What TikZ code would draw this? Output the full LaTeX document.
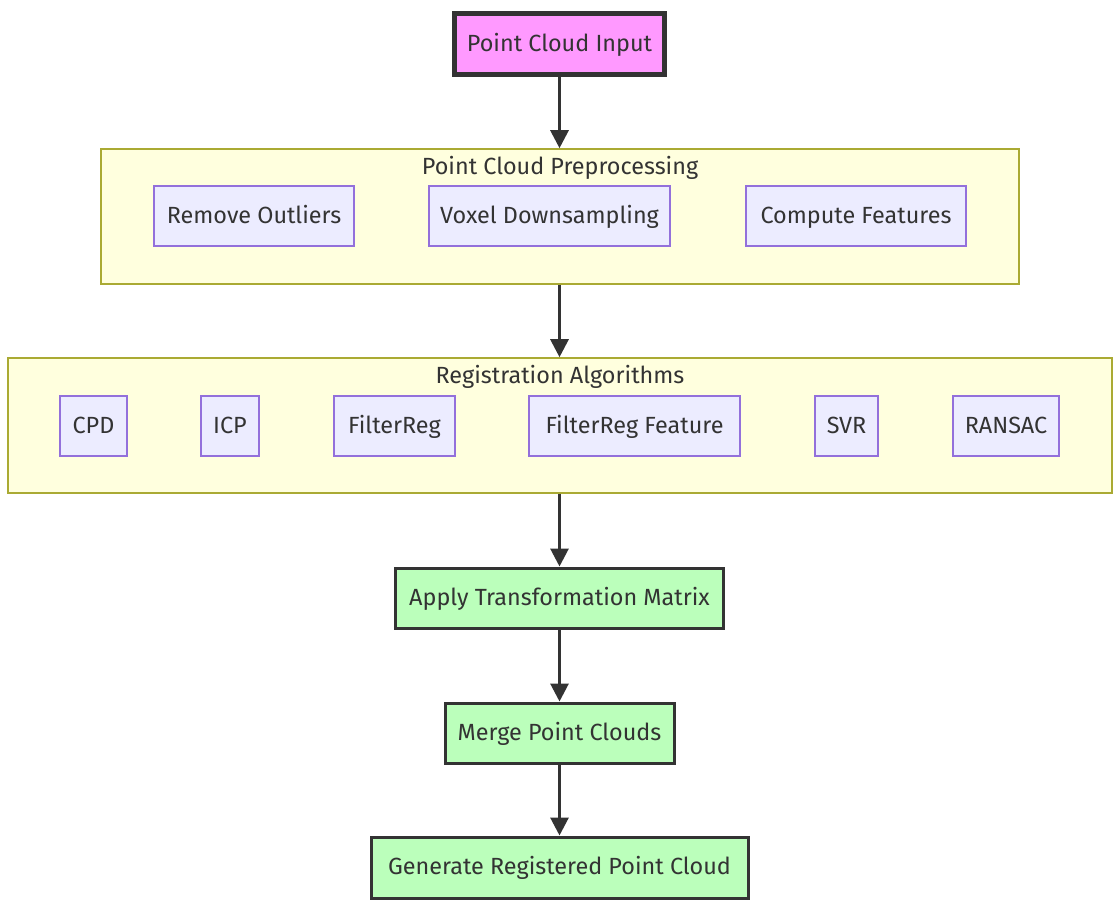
\documentclass[tikz,border=0pt]{standalone}
\usepackage{fontspec}
\setmainfont{Fira Sans}
\usepackage{tikz}
\usetikzlibrary{arrows.meta, positioning, fit}
\definecolor{txt}{HTML}{333333}
\definecolor{nodefill}{HTML}{ECECFF}
\definecolor{nodeline}{HTML}{9370DB}
\definecolor{grpfill}{HTML}{FFFFDE}
\definecolor{grpline}{HTML}{AAAA33}
\definecolor{inputfill}{HTML}{FF99FF}
\definecolor{outfill}{HTML}{BBFFBB}
\tikzset{
  paso/.style={rectangle, draw=nodeline, fill=nodefill, line width=0.7pt,
    minimum height=30pt, align=center, text=txt, text height=1.6ex, text depth=.25ex,
    font=\fontsize{11.7}{13}\selectfont},
  entrada/.style={rectangle, draw=txt, fill=inputfill, line width=2.5pt,
    minimum height=30.5pt, align=center, text=txt, text height=1.6ex, text depth=.25ex,
    font=\fontsize{11.7}{13}\selectfont},
  salida/.style={rectangle, draw=txt, fill=outfill, line width=1.5pt,
    minimum height=30pt, align=center, text=txt, text height=1.6ex, text depth=.25ex,
    font=\fontsize{11.7}{13}\selectfont},
  grupo/.style={rectangle, draw=grpline, fill=grpfill, line width=0.8pt,
    minimum height=67.5pt},
  titulo/.style={text=txt, font=\fontsize{11.7}{13}\selectfont, inner sep=0pt,
    text height=1.6ex, text depth=.25ex},
  flecha/.style={-{Triangle[length=9pt, width=9pt]}, line width=1.5pt, color=txt}
}
\begin{document}
\begin{tikzpicture}[x=0.5pt, y=-0.5pt]
  \useasboundingbox[fill=white] (0,0) rectangle (1119,906);
  % input
  \node[entrada, minimum width=105pt] (input) at (559.5,44) {Point Cloud Input};
  % preprocessing group
  \node[grupo, minimum width=459pt] (prep) at (560,216.5) {};
  \node[titulo] (preptit) at (560,167) {Point Cloud Preprocessing};
  \node[paso, minimum width=100pt] (outl) at (254,216) {Remove Outliers};
  \node[paso, minimum width=120.5pt] (voxel) at (549.5,216) {Voxel Downsampling};
  \node[paso, minimum width=110pt] (feat) at (856,216) {Compute Features};
  % registration group
  \node[grupo, minimum width=552pt] (reg) at (560,425.5) {};
  \node[titulo] (regtit) at (560,376) {Registration Algorithms};
  \node[paso, minimum width=33.5pt] (cpd) at (93.5,426) {CPD};
  \node[paso, minimum width=29pt] (icp) at (230,426) {ICP};
  \node[paso, minimum width=60.5pt] (freg) at (394.5,426) {FilterReg};
  \node[paso, minimum width=105.5pt] (fregf) at (634.5,426) {FilterReg Feature};
  \node[paso, minimum width=31.5pt] (svr) at (846.5,426) {SVR};
  \node[paso, minimum width=53pt] (ransac) at (1006,426) {RANSAC};
  % output steps
  \node[salida, minimum width=164pt] (apply) at (559.5,598) {Apply Transformation Matrix};
  \node[salida, minimum width=114.5pt] (merge) at (559.5,733) {Merge Point Clouds};
  \node[salida, minimum width=188.5pt, minimum height=30.5pt] (gen) at (559.5,867.5) {Generate Registered Point Cloud};
  \draw[flecha] (input) -- (input |- prep.north);
  \draw[flecha] (prep.south -| input) -- (input |- reg.north);
  \draw[flecha] (reg.south -| input) -- (apply);
  \draw[flecha] (apply) -- (merge);
  \draw[flecha] (merge) -- (gen);
\end{tikzpicture}
\end{document}
